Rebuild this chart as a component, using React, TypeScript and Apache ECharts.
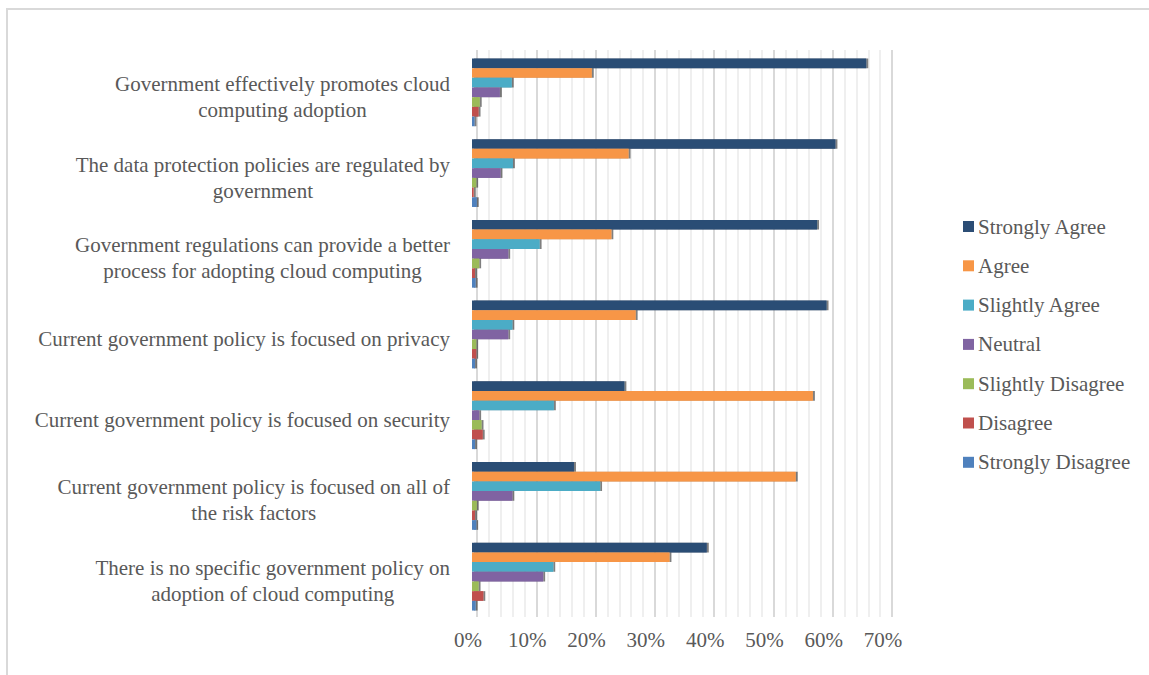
import React, { useEffect, useRef } from 'react';
import * as echarts from 'echarts';

const categories = [
  'Government effectively promotes cloud\ncomputing adoption',
  'The data protection policies are regulated by\ngovernment',
  'Government regulations can provide a better\nprocess for adopting cloud computing',
  'Current government policy is focused on privacy',
  'Current government policy is focused on security',
  'Current government policy is focused on all of\nthe risk factors',
  'There is no specific government policy on\nadoption of cloud computing',
];

const seriesNames = [
  'Strongly Agree',
  'Agree',
  'Slightly Agree',
  'Neutral',
  'Slightly Disagree',
  'Disagree',
  'Strongly Disagree',
];

const colors = ['#2c4d75', '#f79646', '#4bacc6', '#8064a2', '#9bbb59', '#c0504d', '#4f81bd'];

const stronglyAgree = [66.5, 61.3, 58.2, 59.8, 25.7, 17.2, 39.6];
const agree = [20.2, 26.4, 23.5, 27.6, 57.5, 54.6, 33.3];
const slightlyAgree = [6.7, 6.9, 11.4, 6.8, 13.8, 21.6, 13.7];
const neutral = [4.7, 4.8, 6.1, 6.1, 1.2, 6.8, 12.0];
const slightlyDisagree = [1.3, 0.7, 1.2, 0.7, 1.6, 0.8, 1.1];
const disagree = [1.1, 0.3, 0.5, 0.7, 1.8, 0.5, 1.9];
const stronglyDisagree = [0.4, 0.8, 0.6, 0.5, 0.5, 0.7, 0.6];

const seriesValues = [
  stronglyAgree,
  agree,
  slightlyAgree,
  neutral,
  slightlyDisagree,
  disagree,
  stronglyDisagree,
];

const axisMin = 0;
const axisMax = 70;
const axisInterval = 10;

const FONT = '"Liberation Serif", "Times New Roman", serif';
const TEXT_COLOR = '#595959';
const FONT_SIZE = 21;

export default function App() {
  const ref = useRef<HTMLDivElement>(null);

  useEffect(() => {
    if (!ref.current) return;
    const chart = echarts.init(ref.current, undefined, { renderer: 'svg' });

    const option: any = {
      animation: false,
      backgroundColor: '#ffffff',
      textStyle: { fontFamily: FONT },
      graphic: [
        {
          type: 'rect',
          silent: true,
          shape: { x: 7, y: 9, width: 1200, height: 700 },
          style: { fill: 'none', stroke: '#d9d9d9', lineWidth: 2 },
        },
      ],
      legend: {
        orient: 'vertical',
        left: 958,
        top: 211,
        itemWidth: 11,
        itemHeight: 11,
        itemGap: 18.3,
        icon: 'rect',
        data: seriesNames,
        textStyle: { fontSize: FONT_SIZE, color: TEXT_COLOR, fontFamily: FONT, padding: [0, 0, 0, -1] },
        itemStyle: { shadowBlur: 0, shadowOffsetX: 0, shadowOffsetY: 0, shadowColor: 'rgba(0,0,0,0)' },
      },
      grid: [
        { left: 472, width: 415, top: 52, height: 565 },
        { left: 477, width: 415, top: 50, height: 567 },
      ],
      xAxis: [
        {
          gridIndex: 0,
          type: 'value',
          min: axisMin,
          max: axisMax,
          interval: axisInterval,
          axisLine: { show: false },
          axisTick: { show: false },
          splitLine: { show: false },
          axisLabel: {
            formatter: '{value}%',
            fontSize: FONT_SIZE,
            color: TEXT_COLOR,
            fontFamily: FONT,
            margin: 12,
            padding: [0, 8, 0, 0],
          },
        },
        {
          gridIndex: 1,
          type: 'value',
          min: axisMin,
          max: axisMax,
          interval: axisInterval,
          axisLine: { show: false },
          axisTick: { show: false },
          axisLabel: { show: false },
          minorTick: { show: false, splitNumber: 5 },
          splitLine: { show: true, lineStyle: { color: '#d9d9d9', width: 2 } },
          minorSplitLine: { show: true, lineStyle: { color: '#efefef', width: 2 } },
        },
      ],
      yAxis: [
        {
          gridIndex: 0,
          type: 'category',
          data: categories,
          inverse: true,
          axisLine: { show: false },
          axisTick: { show: false },
          splitLine: { show: false },
          axisLabel: {
            margin: 22,
            padding: [9, 0, 0, 0],
            formatter: (v: string) =>
              v
                .split('\n')
                .map((l) => `{c|${l}}`)
                .join('\n'),
            rich: {
              c: {
                align: 'center',
                fontSize: FONT_SIZE,
                lineHeight: 26,
                color: TEXT_COLOR,
                fontFamily: FONT,
              },
            },
          },
        },
        {
          gridIndex: 1,
          type: 'category',
          data: categories,
          inverse: true,
          show: false,
        },
      ],
      series: seriesNames.map((name, i) => ({
        name,
        type: 'bar',
        xAxisIndex: 0,
        yAxisIndex: 0,
        data: seriesValues[i],
        barGap: '0%',
        barCategoryGap: '16%',
        itemStyle: {
          color: colors[i],
          shadowColor: 'rgba(0,0,0,0.5)',
          shadowBlur: 0,
          shadowOffsetX: 2,
          shadowOffsetY: 0,
        },
        emphasis: { disabled: true },
      })),
    };

    chart.setOption(option);
    return () => chart.dispose();
  }, []);

  return (
    <div
      ref={ref}
      style={{ position: 'fixed', left: 0, top: 0, width: 1149, height: 675, background: '#fff' }}
    />
  );
}
